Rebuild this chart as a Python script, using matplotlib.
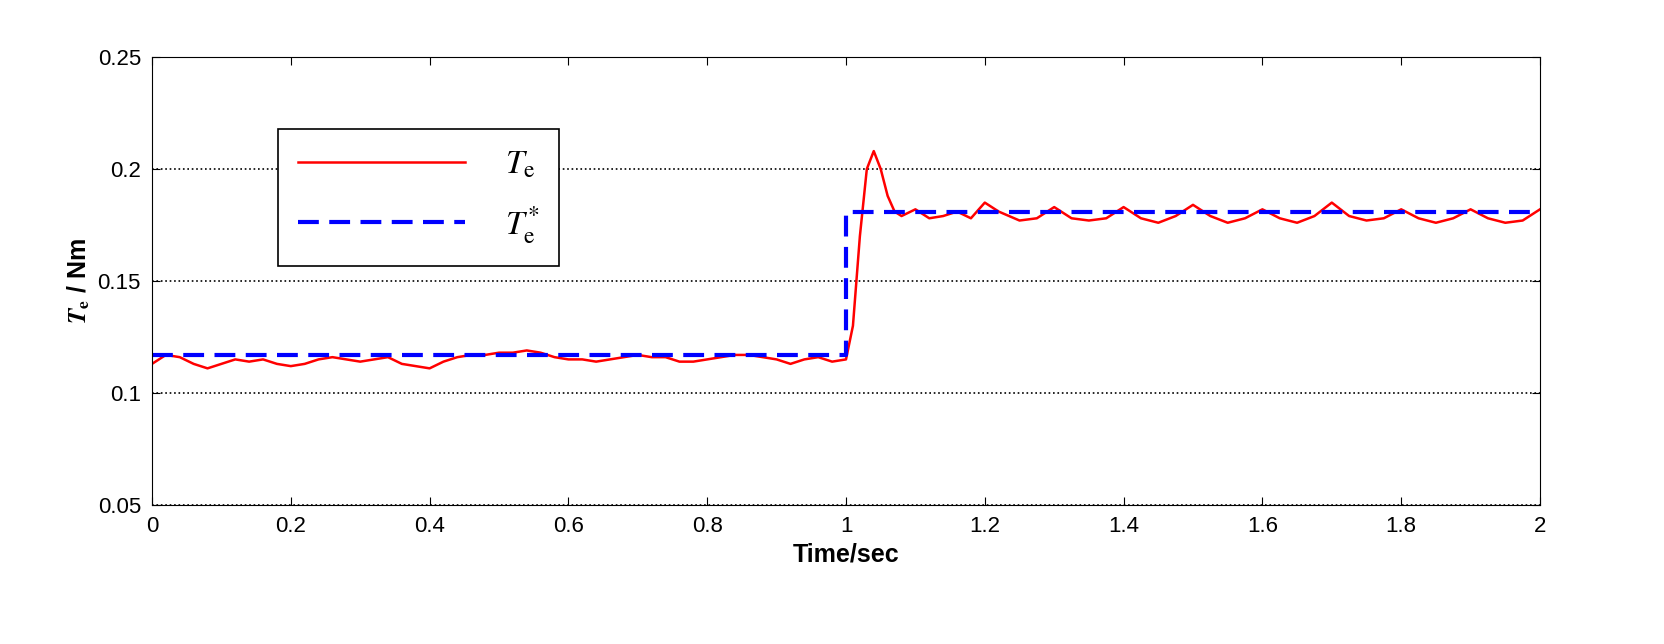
import matplotlib
matplotlib.use("Agg")
import matplotlib.pyplot as plt

t_te = [0,0.02,0.04,0.06,0.08,0.1,0.12,0.14,0.16,0.18,0.2,0.22,0.24,0.26,0.28,0.3,0.32,0.34,0.36,0.38,0.4,
        0.42,0.44,0.46,0.48,0.5,0.52,0.54,0.56,0.58,0.6,0.62,0.64,0.66,0.68,0.7,0.72,0.74,0.76,0.78,0.8,
        0.82,0.84,0.86,0.88,0.9,0.92,0.94,0.96,0.98,1.0,1.01,1.02,1.03,1.04,1.05,1.06,1.07,1.08,1.1,1.12,
        1.14,1.16,1.18,1.2,1.22,1.25,1.275,1.3,1.325,1.35,1.375,1.4,1.425,1.45,1.475,1.5,1.525,1.55,1.575,
        1.6,1.625,1.65,1.675,1.7,1.725,1.75,1.775,1.8,1.825,1.85,1.875,1.9,1.925,1.95,1.975,2.0]
te = [0.113,0.117,0.116,0.113,0.111,0.113,0.115,0.114,0.115,0.113,0.112,0.113,0.115,0.116,0.115,0.114,0.115,0.116,0.113,0.112,0.111,
      0.114,0.116,0.117,0.117,0.118,0.118,0.119,0.118,0.116,0.115,0.115,0.114,0.115,0.116,0.117,0.116,0.116,0.114,0.114,0.115,
      0.116,0.117,0.117,0.116,0.115,0.113,0.115,0.116,0.114,0.115,0.13,0.17,0.2,0.208,0.2,0.188,0.181,0.179,0.182,0.178,
      0.179,0.181,0.178,0.185,0.181,0.177,0.178,0.183,0.178,0.177,0.178,0.183,0.178,0.176,0.179,0.184,0.179,0.176,0.178,
      0.182,0.178,0.176,0.179,0.185,0.179,0.177,0.178,0.182,0.178,0.176,0.178,0.182,0.178,0.176,0.177,0.182]
t_ref = [0, 1.0, 1.0, 2.0]
te_ref = [0.117, 0.117, 0.181, 0.181]

plt.rcParams['font.family'] = ['Liberation Sans', 'DejaVu Sans']
plt.rcParams['mathtext.fontset'] = 'stix'
fig = plt.figure(figsize=(16.64, 6.44), dpi=100)
ax = fig.add_axes([152/1664, 1-505/644, (1540-152)/1664, 448/644])
ax.plot(t_te, te, color='red', lw=1.8, label=r'$T_{\rm e}$')
ax.plot(t_ref, te_ref, color='blue', lw=3, ls=(0, (5, 2.5)), label=r'$T_{\rm e}^{*}$')
ax.set_xlim(0, 2)
ax.set_ylim(0.05, 0.25)
ax.set_xticks([0,0.2,0.4,0.6,0.8,1,1.2,1.4,1.6,1.8,2])
ax.set_xticklabels(['0','0.2','0.4','0.6','0.8','1','1.2','1.4','1.6','1.8','2'])
ax.set_yticks([0.05,0.1,0.15,0.2,0.25])
ax.set_yticklabels(['0.05','0.1','0.15','0.2','0.25'])
ax.tick_params(direction='in', labelsize=16, length=6, top=True, right=True, pad=8)
ax.grid(axis='y', ls=':', color='black', lw=1.2)
ax.set_xlabel('Time/sec', fontsize=18, fontweight='bold', labelpad=4)
ax.set_ylabel(r'$\mathbfit{T}_{\mathbf{e}}$ / Nm', fontsize=18, fontweight='bold')
leg = ax.legend(loc='upper left', bbox_to_anchor=(0.079, 0.877), fancybox=False, edgecolor='black',
                framealpha=1, prop={'family': 'serif', 'size': 24}, handlelength=5, borderpad=0.6,
                labelspacing=0.7, handletextpad=1.2)
leg.get_frame().set_linewidth(1.2)
fig.savefig('out.png', dpi=100)
